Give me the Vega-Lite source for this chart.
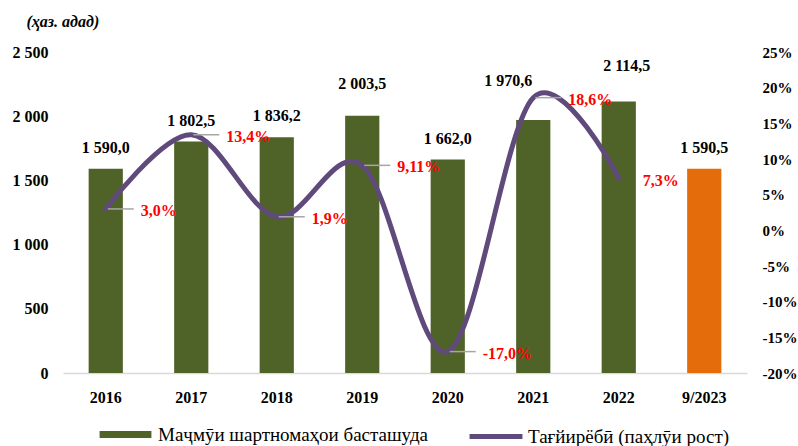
{
  "$schema": "https://vega.github.io/schema/vega-lite/v6.json",
  "width": 684,
  "height": 321,
  "autosize": {"type": "none"},
  "padding": {"left": 63, "top": 52, "right": 51, "bottom": 73},
  "background": "#ffffff",
  "data": {
    "values": [
      {"year": "2016", "value": 1590.0, "pct": 0.030},
      {"year": "2017", "value": 1802.5, "pct": 0.134},
      {"year": "2018", "value": 1836.2, "pct": 0.019},
      {"year": "2019", "value": 2003.5, "pct": 0.0911},
      {"year": "2020", "value": 1662.0, "pct": -0.170},
      {"year": "2021", "value": 1970.6, "pct": 0.186},
      {"year": "2022", "value": 2114.5, "pct": 0.073},
      {"year": "9/2023", "value": 1590.5, "pct": null}
    ]
  },
  "encoding": {
    "x": {
      "field": "year",
      "type": "ordinal",
      "sort": null,
      "scale": {"paddingInner": 0.6, "paddingOuter": 0.3},
      "axis": {
        "title": null,
        "labelAngle": 0,
        "domainColor": "#d9d9d9",
        "domainWidth": 1.5,
        "tickSize": 0,
        "labelPadding": 16
      }
    }
  },
  "layer": [
    {
      "encoding": {
        "y": {
          "field": "value",
          "type": "quantitative",
          "scale": {"domain": [0, 2500], "nice": false, "zero": true},
          "axis": {
            "values": [0, 500, 1000, 1500, 2000, 2500],
            "format": ",d",
            "domain": false,
            "tickSize": 0,
            "labelPadding": 15,
            "title": "(ҳаз. адад)",
            "titleAngle": 0,
            "titleAlign": "left",
            "titleBaseline": "middle",
            "titleX": -37,
            "titleY": -31,
            "titleFont": "Liberation Serif",
            "titleFontSize": 16,
            "titleFontStyle": "italic",
            "titleFontWeight": "bold",
            "titleColor": "#000000"
          }
        }
      },
      "layer": [
        {
          "mark": {"type": "bar"},
          "encoding": {
            "fill": {
              "datum": "Маҷмӯи шартномаҳои басташуда",
              "type": "nominal",
              "scale": {"range": ["#4f6228"]},
              "condition": {"test": "datum.year === '9/2023'", "value": "#e46c0a"},
              "legend": {
                "title": null,
                "orient": "none",
                "legendX": 53,
                "legendY": 373,
                "padding": 0,
                "symbolType": "M-3.7,-0.5H3.7V0.5H-3.7Z",
                "symbolSize": 196,
                "symbolStrokeWidth": 0,
                "labelOffset": 23,
                "labelFont": "Liberation Serif",
                "labelFontSize": 19,
                "labelColor": "#000000",
                "labelLimit": 400
              }
            }
          }
        },
        {
          "transform": [{"filter": "indexof(['2019','2021','2022'], datum.year) < 0"}],
          "mark": {"type": "text", "dy": -21, "baseline": "middle", "font": "Liberation Serif", "fontSize": 16, "fontWeight": "bold", "color": "#000000"},
          "encoding": {"text": {"field": "value", "type": "quantitative", "format": ",.1f"}}
        },
        {
          "transform": [{"filter": "datum.year === '2019'"}],
          "mark": {"type": "text", "dy": -32, "baseline": "middle", "font": "Liberation Serif", "fontSize": 16, "fontWeight": "bold", "color": "#000000"},
          "encoding": {"text": {"field": "value", "type": "quantitative", "format": ",.1f"}}
        },
        {
          "transform": [{"filter": "datum.year === '2022'"}],
          "mark": {"type": "text", "dy": -35, "dx": 8, "baseline": "middle", "font": "Liberation Serif", "fontSize": 16, "fontWeight": "bold", "color": "#000000"},
          "encoding": {"text": {"field": "value", "type": "quantitative", "format": ",.1f"}}
        },
        {
          "transform": [{"filter": "datum.year === '2021'"}],
          "mark": {"type": "text", "dy": -39, "dx": -25, "baseline": "middle", "font": "Liberation Serif", "fontSize": 16, "fontWeight": "bold", "color": "#000000"},
          "encoding": {"text": {"field": "value", "type": "quantitative", "format": ",.1f"}}
        }
      ]
    },
    {
      "transform": [{"filter": "isValid(datum.pct)"}],
      "encoding": {
        "y": {
          "field": "pct",
          "type": "quantitative",
          "scale": {"domain": [-0.2, 0.25], "nice": false, "zero": false},
          "axis": {
            "orient": "right",
            "values": [-0.2, -0.15, -0.1, -0.05, 0, 0.05, 0.1, 0.15, 0.2, 0.25],
            "format": ".0%",
            "domain": false,
            "tickSize": 0,
            "labelPadding": 15,
            "labelFontSize": 15,
            "title": null
          }
        }
      },
      "layer": [
        {
          "mark": {"type": "line", "interpolate": "cardinal", "strokeWidth": 5, "strokeCap": "round"},
          "encoding": {
            "stroke": {
              "datum": "Тағйирёбӣ (паҳлӯи рост)",
              "type": "nominal",
              "scale": {"range": ["#604a7b"]},
              "legend": {
                "title": null,
                "orient": "none",
                "legendX": 404,
                "legendY": 355.5,
                "padding": 0,
                "symbolType": "stroke",
                "symbolSize": 2800,
                "symbolStrokeWidth": 5,
                "labelOffset": 3,
                "labelFont": "Liberation Serif",
                "labelFontSize": 19,
                "labelColor": "#000000",
                "labelLimit": 400
              }
            }
          }
        },
        {
          "transform": [{"filter": "datum.year !== '2022'"}],
          "mark": {"type": "rule", "color": "#a6a6a6", "strokeWidth": 1.5, "xOffset": 2, "x2Offset": 28},
          "encoding": {"x2": {"field": "year"}}
        },
        {
          "transform": [{"filter": "datum.year !== '2022' && datum.year !== '2019'"}],
          "mark": {"type": "text", "align": "left", "baseline": "middle", "dx": 35, "dy": 2, "font": "Liberation Serif", "fontSize": 16, "fontWeight": "bold", "color": "#ff0000"},
          "encoding": {"text": {"field": "pct", "type": "quantitative", "format": ".1%"}}
        },
        {
          "transform": [{"filter": "datum.year === '2019'"}],
          "mark": {"type": "text", "align": "left", "baseline": "middle", "dx": 35, "dy": 2, "font": "Liberation Serif", "fontSize": 16, "fontWeight": "bold", "color": "#ff0000"},
          "encoding": {"text": {"field": "pct", "type": "quantitative", "format": ".2%"}}
        },
        {
          "transform": [{"filter": "datum.year === '2022'"}],
          "mark": {"type": "text", "align": "left", "baseline": "middle", "dx": 24, "dy": 3, "font": "Liberation Serif", "fontSize": 16, "fontWeight": "bold", "color": "#ff0000"},
          "encoding": {"text": {"field": "pct", "type": "quantitative", "format": ".1%"}}
        }
      ]
    }
  ],
  "resolve": {"scale": {"y": "independent"}},
  "config": {
    "view": {"stroke": null},
    "locale": {
      "number": {"decimal": ",", "thousands": " ", "grouping": [3], "currency": ["", ""], "minus": "-"}
    },
    "axis": {
      "grid": false,
      "ticks": false,
      "labelFont": "Liberation Serif",
      "labelFontSize": 16,
      "labelFontWeight": "bold",
      "labelColor": "#000000"
    }
  }
}
